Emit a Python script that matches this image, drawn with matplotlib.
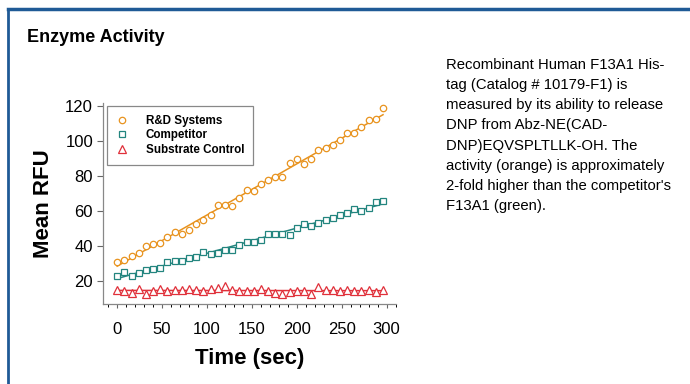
# Enzyme activity chart: R&D Systems vs competitor F13A1, with substrate control.

import numpy as np
import matplotlib.pyplot as plt
from matplotlib.lines import Line2D

plt.rcParams['font.family'] = ['Liberation Sans', 'DejaVu Sans']

# Time points (sec), one reading every 8 sec
time_sec = [0, 8, 16, 24, 32, 40, 48, 56, 64, 72, 80, 88, 96, 104, 112, 120,
            128, 136, 144, 152, 160, 168, 176, 184, 192, 200, 208, 216, 224,
            232, 240, 248, 256, 264, 272, 280, 288, 296]

# Mean RFU readings
rnd_rfu = [31.0, 32.1, 34.8, 36.3, 40.1, 41.2, 42.0, 45.6, 48.1, 47.3, 49.5,
           53.0, 54.8, 57.7, 63.6, 63.6, 63.2, 67.7, 72.3, 71.3, 75.7, 78.0,
           79.7, 79.8, 87.8, 89.9, 87.0, 89.7, 95.0, 95.9, 97.7, 100.5, 104.9,
           104.5, 107.9, 111.9, 112.8, 118.7]
comp_rfu = [23.4, 25.3, 23.4, 24.9, 26.8, 27.4, 27.8, 31.0, 31.4, 31.7, 33.4,
            34.0, 36.7, 35.9, 36.3, 37.8, 38.2, 40.8, 42.3, 42.5, 43.5, 47.3,
            46.9, 47.3, 46.3, 50.5, 52.6, 51.8, 53.3, 54.8, 56.2, 57.9, 59.0,
            61.3, 60.0, 61.7, 65.5, 66.0]
ctrl_rfu = [15.0, 14.4, 13.7, 15.8, 12.9, 14.3, 15.8, 14.4, 15.4, 15.2, 15.8,
            15.0, 14.4, 15.8, 16.3, 17.3, 15.4, 14.8, 14.3, 14.8, 15.6, 14.7,
            13.7, 12.6, 13.9, 14.7, 14.4, 12.7, 16.7, 15.4, 15.4, 14.3, 15.2,
            14.8, 14.3, 15.2, 14.1, 15.4]

labels = ['R&D Systems', 'Competitor', 'Substrate Control']
colors = ['#E8931F', '#23857F', '#E0303A']
markers = ['o', 's', '^']

description = ("Recombinant Human F13A1 His-\n"
               "tag (Catalog # 10179-F1) is\n"
               "measured by its ability to release\n"
               "DNP from Abz-NE(CAD-\n"
               "DNP)EQVSPLTLLK-OH. The\n"
               "activity (orange) is approximately\n"
               "2-fold higher than the competitor's\n"
               "F13A1 (green).")

fig = plt.figure(figsize=(6.9, 3.84), dpi=100)
ax = fig.add_axes([0.149, 0.2076, 0.425, 0.523])

t = np.array(time_sec)
for y, lab, col, mk in zip([rnd_rfu, comp_rfu, ctrl_rfu], labels, colors, markers):
    y = np.array(y)
    # linear fit line through each series
    slope, icpt = np.polyfit(t, y, 1)
    ax.plot(t, slope * t + icpt, color=col, lw=1.1, zorder=2)
    ax.plot(t, y, linestyle='none', marker=mk, markersize=4.6 if mk != '^' else 5.2,
            markerfacecolor='white', markeredgecolor=col, markeredgewidth=0.9,
            label=lab, zorder=3)

ax.set_xlim(-16, 310.5)
ax.set_ylim(7, 121.5)
ax.set_xticks([0, 50, 100, 150, 200, 250, 300])
ax.set_xticks(np.arange(-10, 311, 10), minor=True)
ax.set_yticks([20, 40, 60, 80, 100, 120])
ax.tick_params(axis='both', labelsize=12, direction='out', colors='#666666',
               labelcolor='black', width=0.8)
ax.tick_params(axis='x', which='major', length=3, pad=10)
ax.tick_params(axis='x', which='minor', length=2, width=0.7)
ax.tick_params(axis='y', which='major', length=4, pad=3)

for side in ['top', 'right']:
    ax.spines[side].set_visible(False)
for side in ['left', 'bottom']:
    ax.spines[side].set_color('#888888')
    ax.spines[side].set_linewidth(0.9)

ax.set_xlabel('Time (sec)', fontsize=16, fontweight='bold', labelpad=8)
ax.set_ylabel('Mean RFU', fontsize=16, fontweight='bold', labelpad=8)

leg = ax.legend(loc='upper left', bbox_to_anchor=(0.013, 0.987), borderaxespad=0,
                fancybox=False, edgecolor='#888888', framealpha=1,
                prop={'size': 8.4, 'weight': 'bold'}, handlelength=1.2,
                handletextpad=1.4, borderpad=0.75, labelspacing=0.22)
leg.get_frame().set_linewidth(0.9)

fig.text(27 / 690, 1 - 38 / 384, 'Enzyme Activity', fontsize=13,
         fontweight='bold', va='center', ha='left')
fig.text(446 / 690, 1 - 58 / 384, description, fontsize=10.7, va='top',
         ha='left', linespacing=1.56)

# blue frame around the panel (top and left edges)
fig.add_artist(Line2D([8 / 690, 1.0], [1 - 9 / 384, 1 - 9 / 384],
                      transform=fig.transFigure, color='#1F5A96', lw=2.5))
fig.add_artist(Line2D([8 / 690, 8 / 690], [0, 1 - 9 / 384],
                      transform=fig.transFigure, color='#1F5A96', lw=2.0))

fig.savefig('out.png', dpi=100)
